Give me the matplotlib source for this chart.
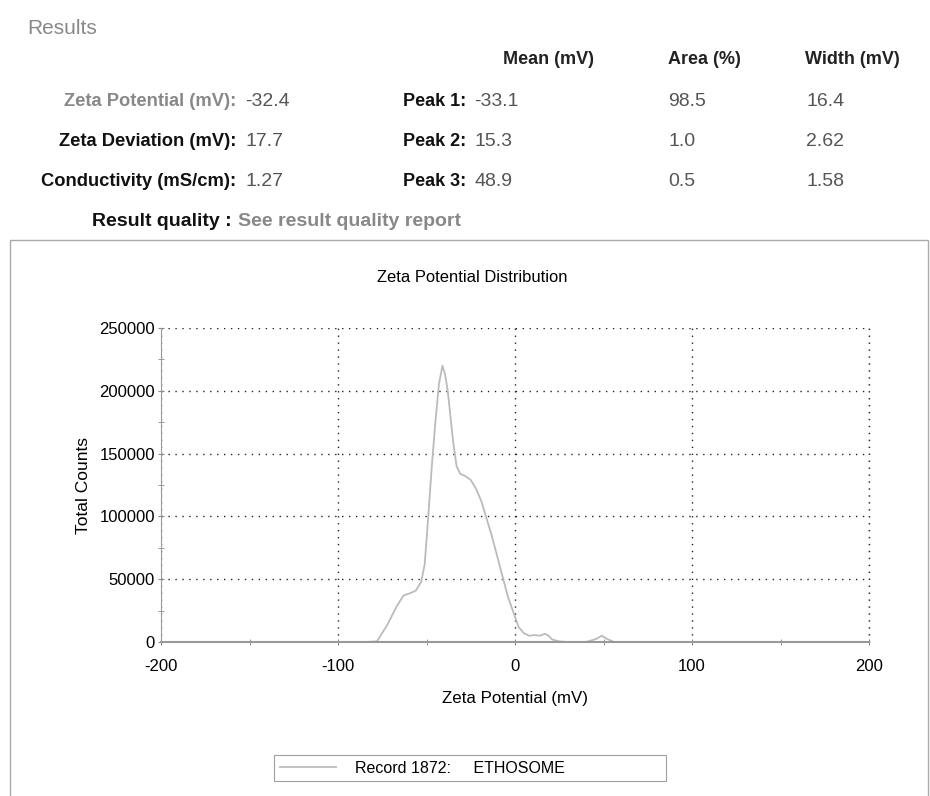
import matplotlib.pyplot as plt
from matplotlib.patches import Rectangle
from matplotlib.ticker import MultipleLocator

# Werte
zeta_mv = [-150, -120, -100, -85, -78, -72, -67, -63, -59, -56, -53, -51, -49, -47,
           -45, -43, -41, -39.5, -38, -36.5, -35, -33, -31, -28, -25, -22, -19, -16,
           -13, -10, -7, -4, -1, 2, 5, 8, 11, 14, 17, 19, 21, 25, 30, 40, 46, 49, 52,
           56, 65, 90, 120, 150]
counts = [0, 0, 0, 0, 500, 14000, 28000, 37000, 39000, 41000, 48000, 62000, 100000, 140000,
          175000, 205000, 220000, 213000, 200000, 180000, 160000, 140000, 134000, 132000, 129000, 122000, 112000, 98000,
          84000, 68000, 52000, 36000, 24000, 12000, 7000, 5000, 5500, 5000, 6500, 5000, 2000, 500, 0, 0, 2500, 5000, 2500,
          0, 0, 0, 0, 0]

header = ["Mean (mV)", "Area (%)", "Width (mV)"]
left_labels = ["Zeta Potential (mV):", "Zeta Deviation (mV):", "Conductivity (mS/cm):"]
left_values = ["-32.4", "17.7", "1.27"]
peak_labels = ["Peak 1:", "Peak 2:", "Peak 3:"]
peak_mean = ["-33.1", "15.3", "48.9"]
peak_area = ["98.5", "1.0", "0.5"]
peak_width = ["16.4", "2.62", "1.58"]

W, H = 930, 796
plt.rcParams['font.family'] = ['Liberation Sans', 'DejaVu Sans']
plt.rcParams['axes.unicode_minus'] = False
fig = plt.figure(figsize=(W / 100, H / 100), dpi=100)


def px(x, y):
    return x / W, 1 - y / H


# Kopfbereich
fig.text(*px(27, 28), "Results", fontsize=15, color="#888888", va="center")
for txt, x in zip(header, [503, 668, 805]):
    fig.text(*px(x, 60), txt, fontsize=13, fontweight="bold", color="#222222", va="center")

for i in range(3):
    y = 102 + i * 40
    col = "#888888" if i == 0 else "#111111"
    fig.text(*px(236, y), left_labels[i], fontsize=13.2, fontweight="bold", color=col, ha="right", va="center")
    fig.text(*px(245, y), left_values[i], fontsize=14, color="#555555", va="center")
    fig.text(*px(466, y), peak_labels[i], fontsize=13, fontweight="bold", color="#111111", ha="right", va="center")
    fig.text(*px(474, y), peak_mean[i], fontsize=14, color="#555555", va="center")
    fig.text(*px(668, y), peak_area[i], fontsize=14, color="#555555", va="center")
    fig.text(*px(806, y), peak_width[i], fontsize=14, color="#555555", va="center")

fig.text(*px(92, 221), "Result quality :", fontsize=14, fontweight="bold", color="#111111", va="center")
fig.text(*px(238, 221), "See result quality report", fontsize=14, fontweight="bold", color="#888888", va="center")

# Rahmen um das Diagramm
fig.patches.append(Rectangle(px(10, 800), (928 - 10) / W, (800 - 240) / H,
                             transform=fig.transFigure, fill=False, edgecolor="#aaaaaa", lw=1))
fig.text(*px(472, 278), "Zeta Potential Distribution", fontsize=11.9, ha="center", va="center")

# Diagramm
ax = fig.add_axes([161 / W, 1 - 642 / H, (869 - 161) / W, (642 - 328) / H])
ax.plot(zeta_mv, counts, color="#bbbbbb", lw=1.3, label="Record 1872:     ETHOSOME")
ax.set_xlim(-200, 200)
ax.set_ylim(0, 250000)
ax.xaxis.set_major_locator(MultipleLocator(100))
ax.xaxis.set_minor_locator(MultipleLocator(50))
ax.yaxis.set_major_locator(MultipleLocator(50000))
ax.yaxis.set_minor_locator(MultipleLocator(25000))
ax.grid(True, which="major", linestyle=(0, (1, 4)), color="#222222", lw=1)
ax.axvline(200, linestyle=(0, (1, 4)), color="#222222", lw=1, clip_on=False)
for s in ["top", "right"]:
    ax.spines[s].set_visible(False)
ax.spines["bottom"].set_color("#999999")
ax.spines["bottom"].set_linewidth(1.5)
ax.spines["left"].set_color("#999999")
ax.tick_params(which="both", direction="inout", color="#888888", labelsize=12, length=5)
ax.tick_params(axis="x", which="major", pad=10)
ax.tick_params(axis="y", which="major", pad=2)
ax.tick_params(which="minor", length=4)
ax.set_xlabel("Zeta Potential (mV)", fontsize=12.2, labelpad=12)
ax.set_ylabel("Total Counts", fontsize=12.5, labelpad=6)
ax.legend(loc="upper left", bbox_to_anchor=(0.149, -0.335, 0.575, 0.0), mode="expand",
          frameon=True, fancybox=False, edgecolor="#888888", fontsize=11.5,
          handlelength=3.5, borderpad=0.35, handletextpad=1.2)
ax.get_legend().get_frame().set_linewidth(0.8)

fig.savefig("out.png", dpi=100)
